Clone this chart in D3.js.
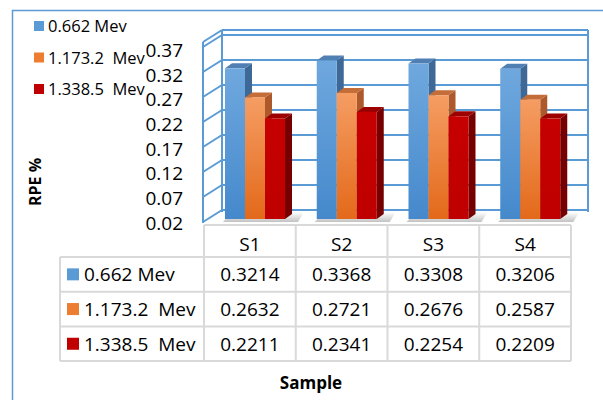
<!DOCTYPE html>
<html>
<head>
<meta charset="utf-8">
<script src="https://cdn.jsdelivr.net/npm/d3@7"></script>
<style>
  body { margin: 0; background: #fff; }
  svg { display: block; }
  text { font-family: "Open Sans", "Liberation Sans", sans-serif; fill: #000; white-space: pre; }
</style>
</head>
<body>
<svg id="chart"></svg>
<script>
// data
const categories = ['S1', 'S2', 'S3', 'S4'];
const seriesNames = ['0.662 Mev', '1.173.2  Mev', '1.338.5  Mev'];
const values662 = [0.3214, 0.3368, 0.3308, 0.3206];
const values1173 = [0.2632, 0.2721, 0.2676, 0.2587];
const values1338 = [0.2211, 0.2341, 0.2254, 0.2209];
const yTicks = [0.02, 0.07, 0.12, 0.17, 0.22, 0.27, 0.32, 0.37];

const seriesValues = [values662, values1173, values1338];
const colors = [
  { top: '#6fa8de', bottom: '#4589cc', side: '#3e6896', cap: '#4f7fb3', key: '#5b9bd5' },
  { top: '#f59d63', bottom: '#e3691a', side: '#ad592b', cap: '#c46d38', key: '#ed7d31' },
  { top: '#c60000', bottom: '#bf0000', side: '#760000', cap: '#9c0000', key: '#c00000' }
];

const svgWidth = 603, svgHeight = 400;
const svg = d3.select('#chart').attr('width', svgWidth).attr('height', svgHeight);

// chart border
svg.append('rect')
  .attr('x', 12.5).attr('y', 10.5)
  .attr('width', 640).attr('height', 420)
  .attr('fill', 'none').attr('stroke', '#5b9bd5').attr('stroke-width', 1.5);

// gradients
const defs = svg.append('defs');
colors.forEach((c, i) => {
  const g = defs.append('linearGradient').attr('id', 'grad' + i)
    .attr('x1', 0).attr('y1', 0).attr('x2', 0).attr('y2', 1);
  g.append('stop').attr('offset', '0%').attr('stop-color', c.top);
  g.append('stop').attr('offset', '100%').attr('stop-color', c.bottom);
});
const sh = defs.append('linearGradient').attr('id', 'shadow')
  .attr('x1', 0).attr('y1', 0).attr('x2', 0).attr('y2', 1);
sh.append('stop').attr('offset', '0%').attr('stop-color', '#888').attr('stop-opacity', 0.0);
sh.append('stop').attr('offset', '100%').attr('stop-color', '#777').attr('stop-opacity', 0.45);

// scales
const tableLeft = 204, tableRight = 571;
const x0 = d3.scaleBand().domain(categories).range([tableLeft, tableRight]);
const x1 = d3.scaleBand().domain(d3.range(seriesNames.length)).range([0, 60]);
const groupOffset = 21;

const yFront = d3.scaleLinear().domain([0.02, 0.37]).range([219, 44]);
const yBack = d3.scaleLinear().domain([0.02, 0.37]).range([210, 35]);
const yLabel = d3.scaleLinear().domain([0.02, 0.37]).range([223, 50]);

const wallLeft = 222, wallRight = 588;
const depthX = -19, depthY = 12;
const gridColor = '#5b9bd5';

// back wall grid
const grid = svg.append('g').attr('stroke', gridColor).attr('stroke-width', 2).attr('fill', 'none');
yTicks.forEach(t => {
  grid.append('line')
    .attr('x1', wallLeft).attr('x2', wallRight)
    .attr('y1', yBack(t)).attr('y2', yBack(t));
  grid.append('line')
    .attr('x1', wallLeft).attr('x2', wallLeft + depthX)
    .attr('y1', yBack(t)).attr('y2', yBack(t) + depthY);
});
// wall top edge
const wallTop = yBack(0.37) - 5;
grid.append('line').attr('x1', wallLeft).attr('x2', wallRight).attr('y1', wallTop).attr('y2', wallTop);
grid.append('line').attr('x1', wallLeft).attr('x2', wallLeft + depthX).attr('y1', wallTop).attr('y2', wallTop + depthY);
grid.append('line').attr('x1', wallLeft).attr('x2', wallLeft).attr('y1', wallTop).attr('y2', yBack(0.02) + 2);
grid.append('line').attr('x1', wallRight).attr('x2', wallRight).attr('y1', wallTop).attr('y2', yBack(0.02) + 2);
grid.append('line').attr('x1', wallLeft + depthX).attr('x2', wallLeft + depthX)
  .attr('y1', wallTop + depthY).attr('y2', yBack(0.02) + depthY + 1);

// y tick labels
svg.append('g').selectAll('text').data(yTicks).join('text')
  .attr('x', 183).attr('y', d => yLabel(d))
  .attr('dy', '0.36em')
  .attr('text-anchor', 'end')
  .style('font-size', '19px')
  .text(d => d3.format('.2f')(d));

// 3D bars
const barW = x1.bandwidth();
const dx = 7, dy = -5;
const bottom = yFront(0.02);
const bars = svg.append('g');

categories.forEach((c, ci) => {
  const gx = x0(c) + groupOffset;
  // floor shadow
  bars.append('polygon')
    .attr('points', [[gx - 2, bottom + 3], [gx + 60 + dx + 6, bottom + 3], [gx + 60 + dx + 12, bottom + dy - 2], [gx + dx, bottom + dy - 2]].join(' '))
    .attr('fill', 'url(#shadow)');
  seriesValues.forEach((vals, si) => {
    const x = gx + x1(si);
    const y = yFront(vals[ci]);
    const col = colors[si];
    bars.append('polygon')
      .attr('points', [[x + barW, y], [x + barW + dx, y + dy], [x + barW + dx, bottom + dy], [x + barW, bottom]].join(' '))
      .attr('fill', col.side);
    bars.append('polygon')
      .attr('points', [[x, y], [x + barW, y], [x + barW + dx, y + dy], [x + dx, y + dy]].join(' '))
      .attr('fill', col.cap);
    bars.append('rect')
      .attr('x', x).attr('y', y)
      .attr('width', barW).attr('height', bottom - y)
      .attr('fill', 'url(#grad' + si + ')');
  });
});

// legend
const legend = svg.append('g');
seriesNames.forEach((name, i) => {
  const ly = 21 + i * 31.5;
  legend.append('rect').attr('x', 34).attr('y', ly).attr('width', 10).attr('height', 10)
    .attr('fill', colors[i].key);
  legend.append('text').attr('x', 48).attr('y', ly + 11)
    .style('font-size', '16.5px').text(name);
});

// data table
const tableLine = '#d9d9d9';
const rowHeaderLeft = 60;
const headerTop = 225, headerBottom = 257;
const rowH = 34.7;
const table = svg.append('g');
const tl = table.append('g').attr('stroke', tableLine).attr('stroke-width', 2);

tl.append('line').attr('x1', tableLeft).attr('x2', tableRight).attr('y1', headerTop).attr('y2', headerTop);
d3.range(seriesNames.length + 1).forEach(r => {
  const yy = headerBottom + r * rowH;
  tl.append('line').attr('x1', rowHeaderLeft).attr('x2', tableRight).attr('y1', yy).attr('y2', yy);
});
const tableBottom = headerBottom + seriesNames.length * rowH;
tl.append('line').attr('x1', rowHeaderLeft).attr('x2', rowHeaderLeft).attr('y1', headerBottom).attr('y2', tableBottom);
categories.concat(['end']).forEach((c, i) => {
  const xx = i < categories.length ? x0(c) : tableRight;
  tl.append('line').attr('x1', xx).attr('x2', xx).attr('y1', headerTop).attr('y2', tableBottom);
});

table.selectAll('text.cat').data(categories).join('text')
  .attr('class', 'cat')
  .attr('x', d => x0(d) + x0.bandwidth() / 2)
  .attr('y', 251)
  .attr('text-anchor', 'middle')
  .style('font-size', '19px')
  .text(d => d);

seriesNames.forEach((name, si) => {
  const cy = headerBottom + si * rowH + rowH / 2;
  table.append('rect').attr('x', 67).attr('y', cy - 6).attr('width', 12).attr('height', 12)
    .attr('fill', colors[si].key);
  table.append('text').attr('x', 84).attr('y', cy).attr('dy', '0.36em')
    .style('font-size', '19px').text(name);
  categories.forEach((c, ci) => {
    table.append('text')
      .attr('x', x0(c) + x0.bandwidth() / 2)
      .attr('y', cy).attr('dy', '0.36em')
      .attr('text-anchor', 'middle')
      .style('font-size', '19px')
      .text(d3.format('.4f')(seriesValues[si][ci]));
  });
});

// axis titles
svg.append('text')
  .attr('transform', 'translate(41,182) rotate(-90)')
  .attr('text-anchor', 'middle')
  .style('font-size', '16px').style('font-weight', 'bold')
  .text('RPE %');

svg.append('text')
  .attr('x', 311).attr('y', 389)
  .attr('text-anchor', 'middle')
  .style('font-size', '17px').style('font-weight', 'bold')
  .text('Sample');
</script>
</body>
</html>
